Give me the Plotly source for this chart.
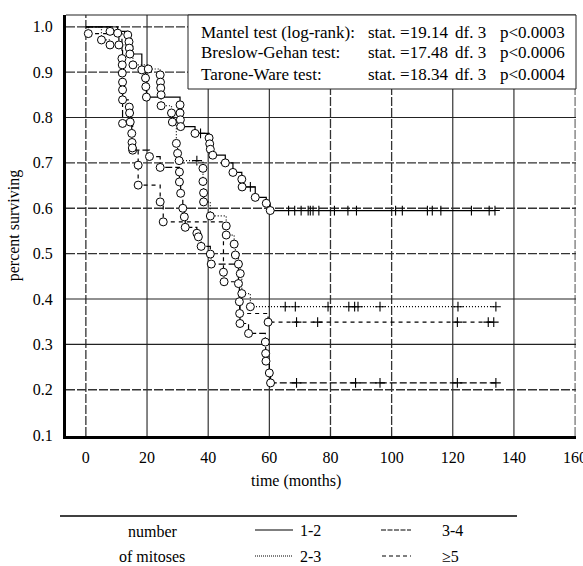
import numpy as np
import plotly.graph_objects as go

# ---------------- data ----------------
# group "1-2" (solid)
g12_t = [7.9, 13.7, 14.1, 14.2, 14.4, 18.3, 19.5, 19.6, 19.8, 30.8, 30.8, 30.9, 31.0, 35.7,
         40.3, 40.5, 40.7, 41.5, 45.6, 48.1, 51.0, 51.1, 55.4, 59.0, 60.3]
g12_s = [0.99, 0.982, 0.967, 0.953, 0.94, 0.905, 0.887, 0.868, 0.845, 0.828, 0.81, 0.795, 0.78, 0.765,
         0.755, 0.742, 0.73, 0.717, 0.70, 0.679, 0.664, 0.647, 0.624, 0.611, 0.595]
g12_c = [37.5, 53.8, 66.3, 68.3, 70.4, 72.7, 73.4, 74.3, 76.2, 81.3, 85.7, 88.5,
         101.3, 103.5, 111.7, 113.3, 116.1, 126.1, 131.9, 133.8]

# group "2-3" (dotted)
g23_t = [5.1, 7.9, 15.4, 20.4, 24.3, 24.4, 24.5, 24.6, 24.6, 28.0, 28.3, 29.6, 30.0, 30.5,
         38.3, 38.3, 38.5, 38.5, 40.7, 45.9, 45.9, 48.5, 48.9, 49.9, 50.5, 51.0, 53.8]
g23_s = [0.971, 0.96, 0.916, 0.907, 0.894, 0.878, 0.865, 0.85, 0.826, 0.81, 0.79, 0.743, 0.721, 0.705,
         0.688, 0.659, 0.634, 0.614, 0.583, 0.561, 0.541, 0.521, 0.497, 0.477, 0.456, 0.412, 0.383]
g23_c = [36.3, 65.2, 68.5, 79.2, 86.0, 87.9, 89.0, 96.2, 121.7, 134.1]

# group "3-4" (long dashes)
g34_t = [10.4, 10.8, 12.0, 15.3, 20.8, 24.3, 30.6, 30.6, 31.0, 31.7, 32.2, 32.5, 36.3, 36.8, 37.7,
         40.7, 41.0, 49.9, 50.2, 50.4, 53.2, 58.7, 58.8, 58.9, 60.0, 60.4]
g34_s = [0.986, 0.96, 0.787, 0.728, 0.714, 0.69, 0.68, 0.658, 0.633, 0.60, 0.581, 0.558, 0.545, 0.537, 0.516,
         0.499, 0.477, 0.434, 0.394, 0.346, 0.324, 0.305, 0.28, 0.263, 0.237, 0.215]
g34_c = [68.9, 88.2, 96.2, 121.5, 134.1]

# group ">=5" (short dashes)
g5_t = [0.8, 11.8, 11.9, 11.9, 12.0, 12.0, 12.0, 14.2, 14.3, 14.5, 15.0, 15.1, 15.2, 17.1, 17.1,
        24.3, 25.3, 45.0, 45.2, 50.3, 59.6]
g5_s = [0.985, 0.93, 0.916, 0.898, 0.878, 0.861, 0.839, 0.823, 0.81, 0.79, 0.765, 0.745, 0.733, 0.695, 0.651,
        0.614, 0.57, 0.459, 0.438, 0.368, 0.349]
g5_c = [68.9, 75.8, 121.5, 131.6, 133.4]

x_ticks = [0, 20, 40, 60, 80, 100, 120, 140, 160]
y_ticks = [0.1, 0.2, 0.3, 0.4, 0.5, 0.6, 0.7, 0.8, 0.9, 1.0]
x_grid_solid = [20, 40, 60, 120, 140]
x_grid_dash = [0, 80, 100, 160]
y_grid_solid = [0.3, 0.4, 0.8]
y_grid_dash = [0.2, 0.5, 0.6, 0.7, 0.9, 1.0]

test_names = ["Mantel test (log-rank):", "Breslow-Gehan test:", "Tarone-Ware test:"]
test_stat = ["stat. =19.14", "stat. =17.48", "stat. =18.34"]
test_df = ["df. 3", "df. 3", "df. 3"]
test_p = ["p<0.0003", "p<0.0006", "p<0.0004"]

legend_labels = ["1-2", "2-3", "3-4", "\u22655"]

# ---------------- figure ----------------
FONT = "Liberation Serif"
W, H = 583, 566
L, R, T, B = 66, 7, 15, 130
PW, PH = W - L - R, H - T - B


def px(xp):
    return (xp - L) / PW


def py(yp):
    return (H - B - yp) / PH


fig = go.Figure()

groups = [
    (g12_t, g12_s, g12_c, "solid", 1.2),
    (g23_t, g23_s, g23_c, "1px,2px", 1.2),
    (g34_t, g34_s, g34_c, "7px,3px", 1.2),
    (g5_t, g5_s, g5_c, "4px,4px", 1.2),
]

for t, s, c, dash, lw in groups:
    t_arr = np.array(t)
    s_arr = np.array(s)
    end = max(c) if c else t_arr[-1]
    fig.add_trace(go.Scatter(
        x=[0.0] + list(t_arr) + [end], y=[1.0] + list(s_arr) + [s_arr[-1]],
        mode="lines", line=dict(color="black", width=lw, dash=dash, shape="hv"),
        hoverinfo="skip", showlegend=False))

for t, s, c, dash, lw in groups:
    t_arr = np.array(t)
    s_arr = np.array(s)
    c_arr = np.array(c)
    idx = np.searchsorted(t_arr, c_arr, side="right") - 1
    cy = np.where(idx >= 0, s_arr[np.clip(idx, 0, None)], 1.0)
    fig.add_trace(go.Scatter(
        x=c_arr, y=cy, mode="markers",
        marker=dict(symbol="cross-thin", size=7, line=dict(color="black", width=1.1)),
        hoverinfo="skip", showlegend=False))
    fig.add_trace(go.Scatter(
        x=t_arr, y=s_arr, mode="markers",
        marker=dict(symbol="circle", size=8, color="white", line=dict(color="black", width=1)),
        hoverinfo="skip", showlegend=False))

shapes = []
for xv in x_grid_solid:
    shapes.append(dict(type="line", xref="x", yref="paper", x0=xv, x1=xv, y0=0, y1=1,
                       line=dict(color="#222", width=1.1), layer="below"))
for xv in x_grid_dash:
    shapes.append(dict(type="line", xref="x", yref="paper", x0=xv, x1=xv, y0=0, y1=1,
                       line=dict(color="#333" if xv != 160 else "#777", width=1.3, dash="9px,2px"),
                       layer="below"))
for yv in y_grid_solid:
    shapes.append(dict(type="line", xref="paper", yref="y", x0=0, x1=1, y0=yv, y1=yv,
                       line=dict(color="#222", width=1.1), layer="below"))
for yv in y_grid_dash:
    shapes.append(dict(type="line", xref="paper", yref="y", x0=0, x1=1, y0=yv, y1=yv,
                       line=dict(color="#333", width=1.3, dash="9px,2px"), layer="below"))
# top frame line
shapes.append(dict(type="line", xref="paper", yref="paper", x0=0, x1=1, y0=1, y1=1,
                   line=dict(color="#222", width=1.2)))
# statistics box
shapes.append(dict(type="rect", xref="paper", yref="paper", x0=px(188), x1=1.0, y0=py(89), y1=1.0,
                   fillcolor="white", line=dict(color="#222", width=1), layer="above"))
# bottom legend rule
shapes.append(dict(type="line", xref="paper", yref="paper", x0=px(60), x1=px(517), y0=py(516), y1=py(516),
                   line=dict(color="black", width=1.5)))
# legend line samples
samples = [(255, 293, 530, "solid"), (255, 293, 556, "1px,1px"),
           (381, 411, 530, "5px,1.5px"), (382, 411, 556, "4px,3px")]
for x0, x1, yy, d in samples:
    shapes.append(dict(type="line", xref="paper", yref="paper", x0=px(x0), x1=px(x1), y0=py(yy), y1=py(yy),
                       line=dict(color="black", width=1.1, dash=d)))

ann = []
rows_y = [32, 53, 74]
for i in range(3):
    ann.append(dict(xref="paper", yref="paper", x=px(199), y=py(rows_y[i]), text=test_names[i],
                    showarrow=False, xanchor="left", yanchor="middle", font=dict(size=17, family=FONT, color="black")))
    ann.append(dict(xref="paper", yref="paper", x=px(366), y=py(rows_y[i]), text=test_stat[i],
                    showarrow=False, xanchor="left", yanchor="middle", font=dict(size=17, family=FONT, color="black")))
    ann.append(dict(xref="paper", yref="paper", x=px(453), y=py(rows_y[i]), text=test_df[i],
                    showarrow=False, xanchor="left", yanchor="middle", font=dict(size=17, family=FONT, color="black")))
    ann.append(dict(xref="paper", yref="paper", x=px(498), y=py(rows_y[i]), text=test_p[i],
                    showarrow=False, xanchor="left", yanchor="middle", font=dict(size=17, family=FONT, color="black")))

ann.append(dict(xref="paper", yref="paper", x=px(296), y=py(481), text="time (months)", showarrow=False,
                xanchor="center", yanchor="middle", font=dict(size=16, family=FONT, color="black")))
ann.append(dict(xref="paper", yref="paper", x=px(153), y=py(531), text="number", showarrow=False,
                xanchor="center", yanchor="middle", font=dict(size=16, family=FONT, color="black")))
ann.append(dict(xref="paper", yref="paper", x=px(152), y=py(556), text="of mitoses", showarrow=False,
                xanchor="center", yanchor="middle", font=dict(size=16, family=FONT, color="black")))
leg_pos = [(298, 530), (298, 556), (440, 530), (440, 556)]
for lab, (xx, yy) in zip(legend_labels, leg_pos):
    ann.append(dict(xref="paper", yref="paper", x=px(xx), y=py(yy), text=lab, showarrow=False,
                    xanchor="left", yanchor="middle", font=dict(size=16, family=FONT, color="black")))

fig.update_layout(
    width=W, height=H,
    margin=dict(l=L, r=R, t=T, b=B, autoexpand=False),
    paper_bgcolor="white", plot_bgcolor="white",
    font=dict(family=FONT, size=16, color="black"),
    shapes=shapes, annotations=ann,
    xaxis=dict(range=[-6.5, 160.3], tickvals=x_ticks, ticktext=[str(v) for v in x_ticks],
               showgrid=False, zeroline=False, showline=True, linecolor="black", linewidth=3,
               ticks="", ticklabelstandoff=5, ticklabeloverflow="allow", automargin=False,
               tickfont=dict(size=16, family=FONT)),
    yaxis=dict(range=[0.098, 1.026], tickvals=y_ticks, ticktext=["%.1f" % v for v in y_ticks],
               showgrid=False, zeroline=False, showline=True, linecolor="black", linewidth=3,
               ticks="", ticklabelstandoff=7, tickfont=dict(size=16, family=FONT), automargin=False,
               title=dict(text="percent surviving", font=dict(size=16, family=FONT), standoff=10)),
)

fig.write_html("out.html", config={"displayModeBar": False},
               post_script="document.body.style.margin='0';document.body.style.overflow='hidden';")
